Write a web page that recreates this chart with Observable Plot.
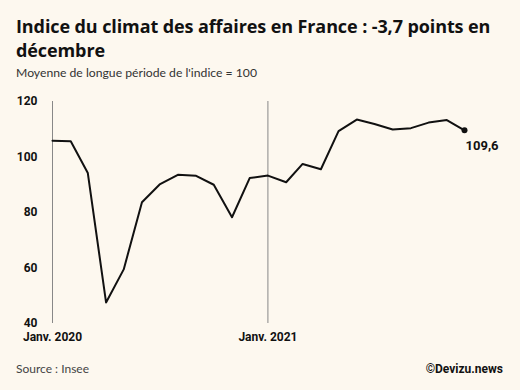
<!DOCTYPE html>
<html><head><meta charset="utf-8">
<script src="https://cdn.jsdelivr.net/npm/d3@7"></script>
<script src="https://cdn.jsdelivr.net/npm/@observablehq/plot@0.6"></script>
<style>
body{margin:0;background:#fdf8ef;}
#c{position:relative;width:520px;height:390px;background:#fdf8ef;overflow:hidden;font-family:Lato,sans-serif;}
.t{position:absolute;left:16px;top:14px;white-space:nowrap;font:700 18px/24px "Open Sans",sans-serif;color:#111;letter-spacing:-0.1px;}
.s{position:absolute;left:16px;top:65px;white-space:nowrap;font:400 12.2px/16px Lato,sans-serif;color:#333;}
#chart{position:absolute;left:0;top:88px;}
.f1{position:absolute;left:16px;top:361px;font:400 12px/16px Lato,sans-serif;color:#444;}
.f2{position:absolute;right:17px;top:361px;font:700 12px/16px Roboto,sans-serif;color:#111;}
</style></head>
<body>
<div id="c">
<div class="t">Indice du climat des affaires en France : -3,7 points en<br>décembre</div>
<div class="s">Moyenne de longue période de l'indice = 100</div>
<div id="chart"></div>
<div class="f1">Source : Insee</div>
<div class="f2">©Devizu.news</div>
</div>
<script>
const months = ["2020-01","2020-02","2020-03","2020-04","2020-05","2020-06","2020-07","2020-08","2020-09","2020-10","2020-11","2020-12",
"2021-01","2021-02","2021-03","2021-04","2021-05","2021-06","2021-07","2021-08","2021-09","2021-10","2021-11","2021-12"];
const values = [105.9,105.7,94.2,47.6,59.5,83.7,90.1,93.6,93.2,90.0,78.3,92.4,
93.3,90.9,97.5,95.6,109.3,113.5,111.9,109.9,110.4,112.4,113.3,109.6];
const yTicks = [40,60,80,100,120];
const yearMarks = ["2020-01","2021-01"];
const lastLabel = "109,6";

const data = months.map((m,i)=>({date:new Date(m+"-01T00:00:00Z"), value:values[i]}));
const marks = yearMarks.map(m=>new Date(m+"-01T00:00:00Z"));
const last = data[data.length-1];

const chart = Plot.plot({
  width:520, height:265,
  marginTop:13, marginBottom:30, marginLeft:52, marginRight:56,
  style:{background:"transparent", fontFamily:"Roboto, sans-serif", fontSize:"12px", color:"#111"},
  x:{type:"utc", domain:[data[0].date, last.date]},
  y:{domain:[40,120]},
  marks:[
    Plot.ruleX(marks,{y1:40,y2:120,stroke:"#888",strokeWidth:1}),
    Plot.axisY({ticks:yTicks, tickSize:0, tickPadding:15, fontWeight:"bold", label:null}),
    Plot.axisX({ticks:marks, tickSize:0, tickPadding:9, fontWeight:"bold", label:null,
      tickFormat:d=>"Janv. "+d.getUTCFullYear()}),
    Plot.line(data,{x:"date",y:"value",stroke:"#111",strokeWidth:2}),
    Plot.dot([last],{x:"date",y:"value",r:3,fill:"#111"}),
    Plot.text([last],{x:"date",y:"value",text:()=>lastLabel,textAnchor:"start",dx:1,dy:15,fontWeight:"bold",fontSize:13,fill:"#111"})
  ]
});
document.getElementById("chart").appendChild(chart);
</script>
</body></html>
